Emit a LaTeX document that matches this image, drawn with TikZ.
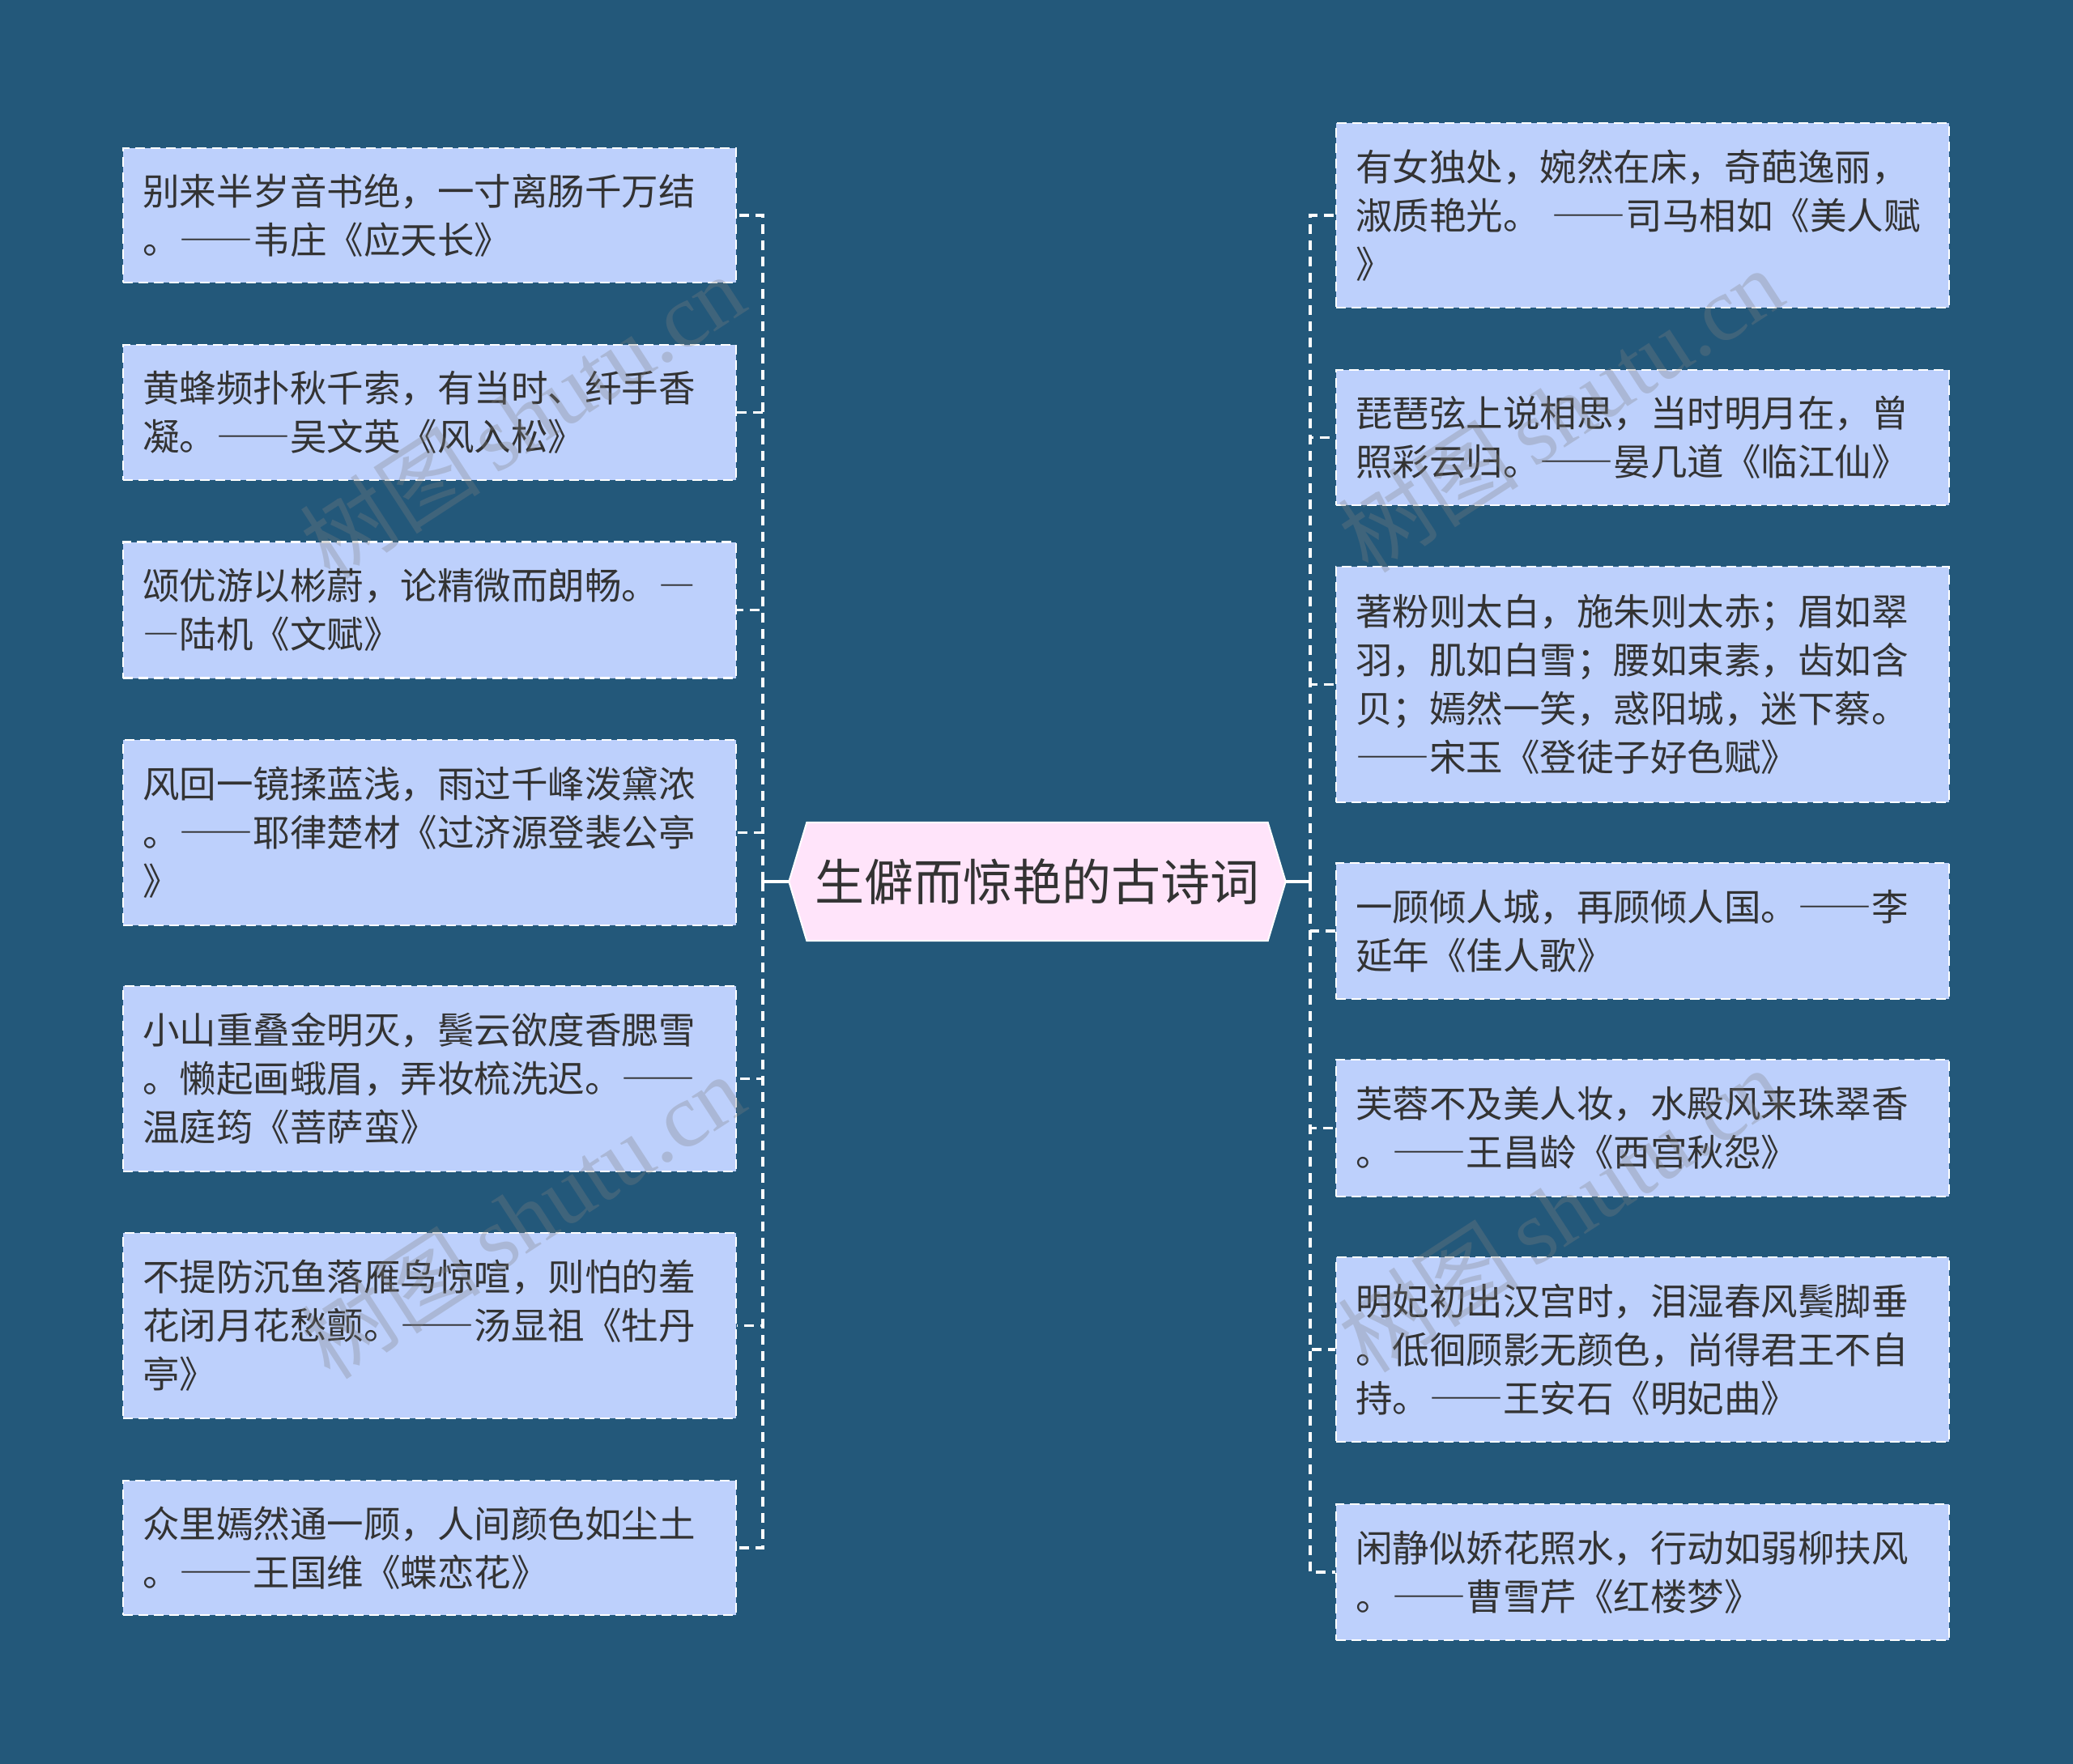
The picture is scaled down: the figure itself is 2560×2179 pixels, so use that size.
\documentclass[tikz,border=0pt]{standalone}
\usepackage{fontspec}
\setmainfont{Liberation Serif}
\newfontfamily\cjk{Noto Sans CJK SC}
\newcommand\dd{{\addfontfeatures{RawFeature=+fwid}——}}
\usetikzlibrary{calc,backgrounds}
\definecolor{bgc}{RGB}{35,88,122}
\definecolor{boxc}{RGB}{189,208,252}
\definecolor{rootc}{RGB}{255,228,250}
\definecolor{txt}{RGB}{51,51,51}
\tikzset{
  leaf/.style={rectangle, draw=white, dashed, dash pattern=on 12pt off 7pt, line width=2.5pt,
    fill=boxc, text=txt, minimum width=757pt, text width=709pt, align=left, inner sep=0pt,
    font=\cjk\fontsize{45.5pt}{60pt}\selectfont},
  conn/.style={draw=white, line width=3.5pt, dash pattern=on 12pt off 8pt},
  solidconn/.style={draw=white, line width=3.5pt},
  wmark/.style={text=gray, opacity=0.3, rotate=33, font=\fontsize{112pt}{112pt}\selectfont}
}
\begin{document}
\begin{tikzpicture}[x=1pt,y=-1pt]
\useasboundingbox (0,0) rectangle (2560,2179);

% root
\node[minimum width=569pt, minimum height=146pt, inner sep=0pt, text=txt,
      font=\cjk\fontsize{61pt}{62pt}\selectfont] (root) at (1281,1089) {生僻而惊艳的古诗词};
\begin{scope}[on background layer]
\fill[bgc] (0,0) rectangle (2560,2179);
\filldraw[fill=rootc, draw=white, line width=2pt]
  (root.north west) -- (root.north east) -- ($(root.east)+(22,0)$) -- (root.south east)
  -- (root.south west) -- ($(root.west)+(-22,0)$) -- cycle;
\end{scope}

% left leaves
\node[leaf, minimum height=166pt] (L1) at (530.5,266) {别来半岁音书绝，一寸离肠千万结\\。\dd 韦庄《应天长》};
\node[leaf, minimum height=167pt] (L2) at (530.5,509.5) {黄蜂频扑秋千索，有当时、纤手香\\凝。\dd 吴文英《风入松》};
\node[leaf, minimum height=168pt] (L3) at (530.5,753.5) {颂优游以彬蔚，论精微而朗畅。{\addfontfeatures{RawFeature=+fwid}—}\\{\addfontfeatures{RawFeature=+fwid}—}陆机《文赋》};
\node[leaf, minimum height=229pt] (L4) at (530.5,1028.5) {风回一镜揉蓝浅，雨过千峰泼黛浓\\。\dd 耶律楚材《过济源登裴公亭\\》};
\node[leaf, minimum height=229pt] (L5) at (530.5,1332.5) {小山重叠金明灭，鬓云欲度香腮雪\\。懒起画蛾眉，弄妆梳洗迟。\dd\\温庭筠《菩萨蛮》};
\node[leaf, minimum height=229pt] (L6) at (530.5,1637.5) {不提防沉鱼落雁鸟惊喧，则怕的羞\\花闭月花愁颤。\dd 汤显祖《牡丹\\亭》};
\node[leaf, minimum height=166pt] (L7) at (530.5,1912) {众里嫣然通一顾，人间颜色如尘土\\。\dd 王国维《蝶恋花》};

% right leaves
\node[leaf, minimum height=228pt] (R1) at (2028.5,266) {有女独处，婉然在床，奇葩逸丽，\\淑质艳光。 \dd 司马相如《美人赋\\》};
\node[leaf, minimum height=167pt] (R2) at (2028.5,540.5) {琵琶弦上说相思，当时明月在，曾\\照彩云归。\dd 晏几道《临江仙》};
\node[leaf, minimum height=291pt] (R3) at (2028.5,845.5) {著粉则太白，施朱则太赤；眉如翠\\羽，肌如白雪；腰如束素，齿如含\\贝；嫣然一笑，惑阳城，迷下蔡。\\\dd 宋玉《登徒子好色赋》};
\node[leaf, minimum height=168pt] (R4) at (2028.5,1150) {一顾倾人城，再顾倾人国。\dd 李\\延年《佳人歌》};
\node[leaf, minimum height=169pt] (R5) at (2028.5,1393.5) {芙蓉不及美人妆，水殿风来珠翠香\\。\dd 王昌龄《西宫秋怨》};
\node[leaf, minimum height=228pt] (R6) at (2028.5,1667) {明妃初出汉宫时，泪湿春风鬓脚垂\\。低徊顾影无颜色，尚得君王不自\\持。\dd 王安石《明妃曲》};
\node[leaf, minimum height=168pt] (R7) at (2028.5,1942) {闲静似娇花照水，行动如弱柳扶风\\。\dd 曹雪芹《红楼梦》};

% trunks
\coordinate (lt) at (942,1089);
\coordinate (rt) at (1618,1089);
\draw[solidconn] ($(root.west)+(-22,0)$) -- (lt);
\draw[solidconn] ($(root.east)+(22,0)$) -- (rt);
\foreach \n in {L1,L2,L3,L4,L5,L6,L7} { \draw[conn] (lt) |- (\n.east); }
\foreach \n in {R1,R2,R3,R4,R5,R6,R7} { \draw[conn] (rt) |- (\n.west); }

% watermarks
\node[wmark] (w1) at (645,514) {{\cjk 树图}\,shutu.cn};
\node[wmark] (w2) at (645,1502) {{\cjk 树图}\,shutu.cn};
\node[wmark] (w3) at (1927,506) {{\cjk 树图}\,shutu.cn};
\node[wmark] (w4) at (1927,1494) {{\cjk 树图}\,shutu.cn};
\end{tikzpicture}
\end{document}
